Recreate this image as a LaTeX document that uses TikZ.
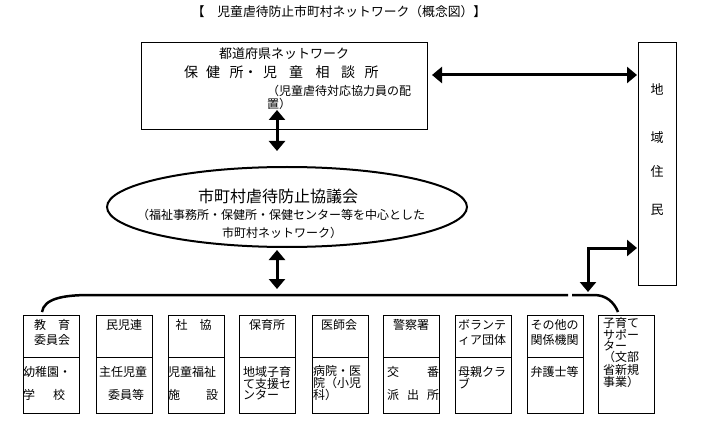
\documentclass[tikz,border=0pt]{standalone}
\usepackage{fontspec}
\setmainfont{Noto Sans CJK JP}
\usetikzlibrary{shapes.geometric,arrows.meta}
\tikzset{
  frame/.style={draw, line width=0.8pt, anchor=north west, inner sep=0pt},
  unitbox/.style={frame, minimum width=56pt, minimum height=98pt},
  txt/.style={inner sep=0pt, font=\fontsize{12}{13}\selectfont},
  big/.style={inner sep=0pt, font=\fontsize{13}{14}\selectfont},
  dbl/.style={line width=3pt, {Triangle[width=16pt,length=10pt]}-{Triangle[width=16pt,length=10pt]}},
  brace/.style={line width=2.5pt},
}
\begin{document}
\begin{tikzpicture}[x=1pt,y=-1pt]
\useasboundingbox (0,0) rectangle (703,430);

% title
\node[big, font=\fontsize{12.8}{14}\selectfont] (title) at (339,12) {【　児童虐待防止市町村ネットワーク（概念図）】};

% prefecture box
\node[frame, minimum width=286pt, minimum height=87pt] (pref) at (141,42) {};
\node[big] (prefnet) at (284,54) {都道府県ネットワーク};
\node[inner sep=0pt, font=\fontsize{14}{15}\selectfont, anchor=west] (prefname) at (184,72)
  {保\hspace{8pt}健\hspace{9.5pt}所・\hspace{5.5pt}児\hspace{12pt}童\hspace{12.5pt}相\hspace{11.5pt}談\hspace{9.5pt}所};
\node[txt, anchor=west, align=left] (prefnote) at (267,97.5) {（児童虐待対応協力員の配\\置）};

% residents box
\node[frame, minimum width=38pt, minimum height=243pt] (res) at (638,42) {};
\node[big] (r1) at (657,89) {地};
\node[big] (r2) at (657,138) {域};
\node[big] (r3) at (657,172) {住};
\node[big] (r4) at (657,210) {民};

% council ellipse
\node[draw, ellipse, line width=2pt, minimum width=360pt, minimum height=80pt, inner sep=0pt] (council) at (287,207) {};
\node[inner sep=0pt, font=\fontsize{16}{17}\selectfont] (c1) at (278,196) {市町村虐待防止協議会};
\node[txt] (c2) at (281,215) {（福祉事務所・保健所・保健センター等を中心とした};
\node[txt] (c3) at (282,233) {市町村ネットワーク）};

% arrows
\coordinate (a1t) at (277,110);
\coordinate (a1b) at (277,151);
\draw[dbl] (a1t) -- (a1b);
\coordinate (h1l) at (432,75);
\coordinate (h1r) at (res.west |- 0,75);
\draw[dbl] (h1l) -- ([xshift=-1pt]h1r);
\coordinate (a2t) at (277,250);
\coordinate (a2b) at (277,289);
\draw[dbl] (a2t) -- (a2b);
\coordinate (e1) at (588,292);
\coordinate (e2) at (res.west |- 0,248);
\draw[dbl] (e1) -- (588,248) -- ([xshift=-1pt]e2);

% unit boxes
\foreach \i/\x in {1/23,2/96,3/168,4/239,5/312,6/383,7/455,8/527,9/598}
  \node[unitbox] (b\i) at (\x,315) {};
\foreach \i in {1,...,8}
  \draw[line width=0.8pt] ([yshift=7pt]b\i.west) -- ([yshift=7pt]b\i.east);

% bracket
\coordinate (bl) at (42,312);
\coordinate (br) at (618,312);
\draw[brace] (bl) .. controls (44,299) and (62,295) .. (90,295) -- (568,295);
\draw[brace] (572,295) -- (594,295) .. controls (606,295) and (614,302) .. (br);

% box texts
\node[txt, align=center, font=\fontsize{12}{15}\selectfont] (t1) at (52,332.5) {教　育\\委員会};
\node[txt, anchor=west, align=left, font=\fontsize{12}{23}\selectfont] (u1) at (23,383.5) {幼稚園・\\学\hspace{18pt}校};

\node[txt] (t2) at (124,325) {民児連};
\node[txt, anchor=west, align=left, font=\fontsize{12}{23}\selectfont] (u2) at (99,383.5) {主任児童\\\hspace{9pt}委員等};

\node[txt] (t3) at (193.5,325) {社　協};
\node[txt, anchor=west, align=left, font=\fontsize{12}{23}\selectfont] (u3) at (168,383.5) {児童福祉\\施\hspace{26pt}設};

\node[txt] (t4) at (267,325) {保育所};
\node[txt, anchor=west, align=left, font=\fontsize{12}{11}\selectfont] (u4) at (243,383) {地域子育\\て支援セ\\ンター};

\node[txt] (t5) at (339,325) {医師会};
\node[txt, anchor=west, align=left, font=\fontsize{12}{11}\selectfont] (u5) at (313,383) {病院・医\\院（小児\\科）};

\node[txt] (t6) at (411,325) {警察署};
\node[txt, anchor=west, align=left, font=\fontsize{12}{23}\selectfont] (u6) at (387,383.5) {交\hspace{28pt}番\\派\hspace{8pt}出\hspace{8pt}所};

\node[txt, anchor=west, align=left, font=\fontsize{12}{15}\selectfont] (t7) at (458,332.5) {ボランテ\\ィア団体};
\node[txt, anchor=west, align=left, font=\fontsize{12}{11}\selectfont] (u7) at (458,377.5) {母親クラ\\ブ};

\node[txt, align=center, font=\fontsize{12}{15}\selectfont] (t8) at (554.5,332.5) {その他の\\関係機関};
\node[txt] (u8) at (554.5,372) {弁護士等};

\node[txt, anchor=west, align=left, font=\fontsize{12}{11}\selectfont] (t9) at (603,352.5) {子育て\\サポー\\ター\\（文部\\省新規\\事業）};
\end{tikzpicture}
\end{document}
